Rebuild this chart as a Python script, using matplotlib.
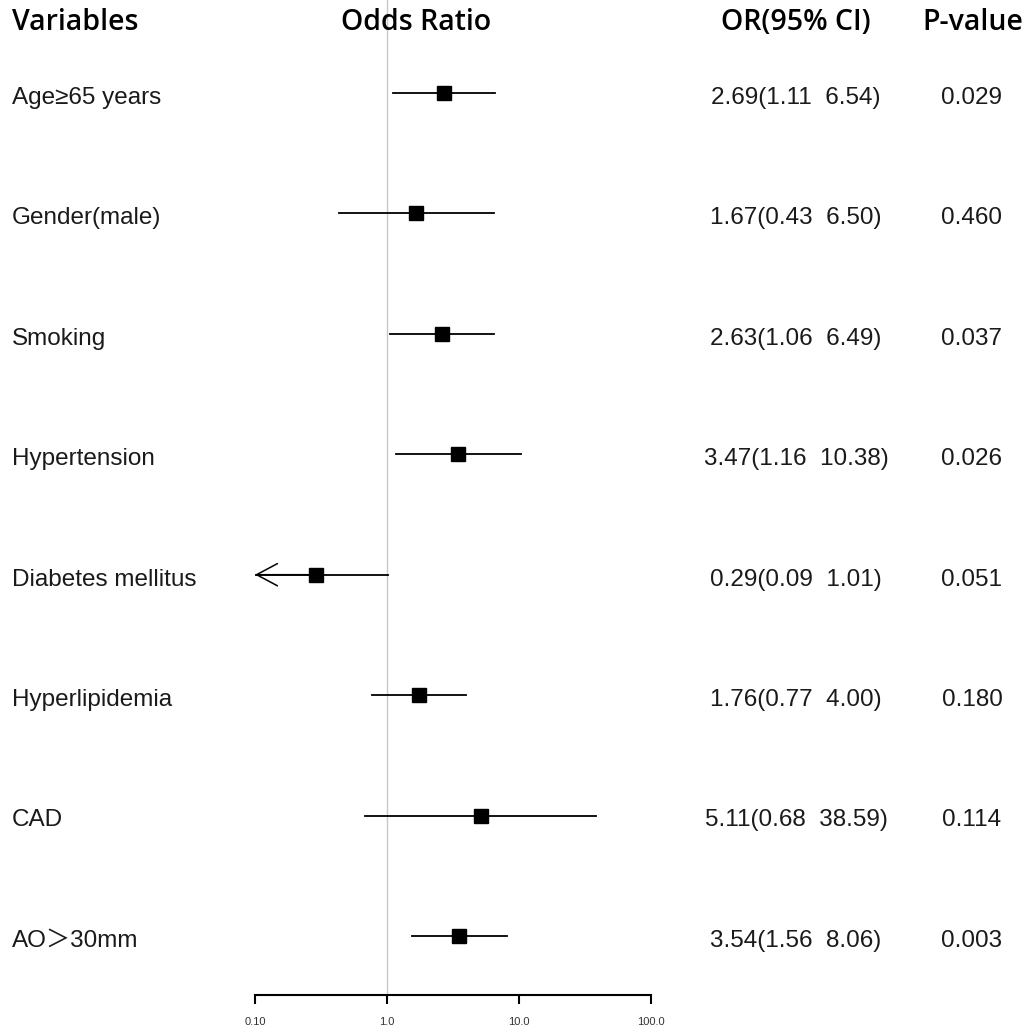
import numpy as np
import matplotlib.pyplot as plt
import matplotlib.transforms as mtransforms

variables = ['Age≥65 years', 'Gender(male)', 'Smoking', 'Hypertension',
             'Diabetes mellitus', 'Hyperlipidemia', 'CAD', 'AO＞30mm']
odds = [2.69, 1.67, 2.63, 3.47, 0.29, 1.76, 5.11, 3.54]
lower = [1.11, 0.43, 1.06, 1.16, 0.09, 0.77, 0.68, 1.56]
upper = [6.54, 6.50, 6.49, 10.38, 1.01, 4.00, 38.59, 8.06]
pvals = ['0.029', '0.460', '0.037', '0.026', '0.051', '0.180', '0.114', '0.003']
ticks = [0.1, 1, 10, 100]
tick_labels = ['0.10', '1.0', '10.0', '100.0']

body_font = ['Liberation Sans', 'Noto Sans CJK SC', 'DejaVu Sans']
head_font = ['Open Sans', 'DejaVu Sans']
txt_color = '#1a1a1a'

W, H = 1035, 1029
fig = plt.figure(figsize=(W / 100, H / 100), dpi=100)
ax = fig.add_axes([255 / W, (H - 995) / H, (651 - 255) / W, 995 / H])
ax.set_xscale('log')
ax.set_xlim(0.1, 100)
ax.set_ylim(7.49, -0.772)

ax.axvline(1, color='#c8c8c8', lw=1, zorder=0)

xmin = ax.get_xlim()[0]
for i in range(len(variables)):
    lo = max(lower[i], xmin)
    ax.plot([lo, upper[i]], [i, i], color='black', lw=1.3)
    if lower[i] < xmin:
        ax.annotate('', xy=(xmin, i), xytext=(odds[i], i),
                    arrowprops=dict(arrowstyle='->,head_length=0.75,head_width=0.4',
                                    mutation_scale=20, lw=1.1, color='black',
                                    shrinkA=0, shrinkB=0))
    ax.plot(odds[i], i, marker='s', color='black', markersize=10)

for s in ['top', 'left', 'right']:
    ax.spines[s].set_visible(False)
ax.spines['bottom'].set_linewidth(1.5)
ax.set_yticks([])
ax.set_xticks(ticks)
ax.set_xticklabels(tick_labels, fontsize=8, family=body_font, color='#333333')
ax.minorticks_off()
ax.tick_params(axis='x', length=6.5, width=1.5, pad=9)

# text baseline sits a little below the marker row
tr = mtransforms.blended_transform_factory(fig.transFigure, ax.transData)
for i in range(len(variables)):
    y = i + 0.09
    ax.text(12 / W, y, variables[i], transform=tr, ha='left', va='baseline',
            fontsize=17.5, family=body_font, color=txt_color)
    ci = '%.2f(%.2f  %.2f)' % (odds[i], lower[i], upper[i])
    ax.text(796 / W, y, ci, transform=tr, ha='center', va='baseline',
            fontsize=17.5, family=body_font, color=txt_color)
    ax.text(972 / W, y, pvals[i], transform=tr, ha='center', va='baseline',
            fontsize=17.5, family=body_font, color=txt_color)

hy = 1 - 23 / H
fig.text(12 / W, hy, 'Variables', ha='left', va='center', fontsize=20.5,
         fontweight='semibold', family=head_font)
fig.text(416 / W, hy, 'Odds Ratio', ha='center', va='center', fontsize=20.5,
         fontweight='semibold', family=head_font)
fig.text(796 / W, hy, 'OR(95% CI)', ha='center', va='center', fontsize=20.5,
         fontweight='semibold', family=head_font)
fig.text(973 / W, hy, 'P-value', ha='center', va='center', fontsize=20.5,
         fontweight='semibold', family=head_font)

fig.savefig('out.png', dpi=100)
